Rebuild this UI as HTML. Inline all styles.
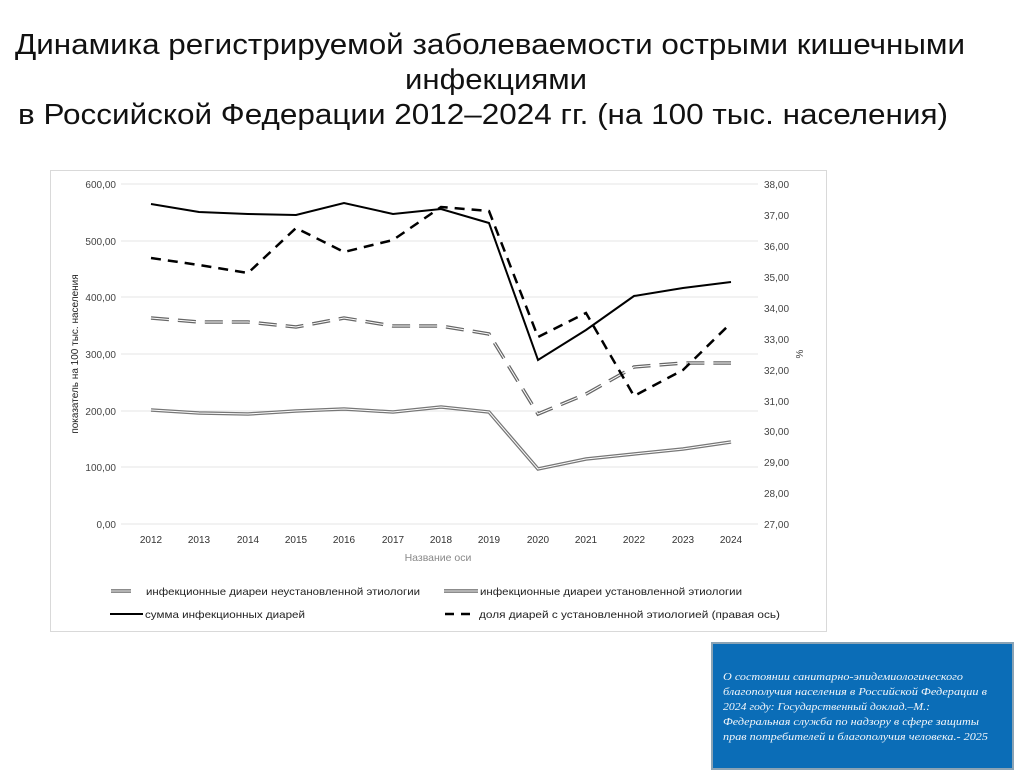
<!DOCTYPE html>
<html><head><meta charset="utf-8"><style>
html,body{margin:0;padding:0;background:#fff;width:1024px;height:779px;overflow:hidden}
</style></head><body>
<svg width="1024" height="779" xmlns="http://www.w3.org/2000/svg" font-family="Liberation Sans, sans-serif">
<g font-size="29" fill="#111">
<text x="15" y="54" textLength="950" lengthAdjust="spacingAndGlyphs">Динамика регистрируемой заболеваемости острыми кишечными</text>
<text x="405" y="89" textLength="182" lengthAdjust="spacingAndGlyphs">инфекциями</text>
<text x="18" y="124" textLength="930" lengthAdjust="spacingAndGlyphs">в Российской Федерации 2012–2024 гг. (на 100 тыс. населения)</text>
</g>
<rect x="50.5" y="170.5" width="776" height="461" fill="#fff" stroke="#d9d9d9"/>
<g stroke="#e6e6e6" stroke-width="1">
<line x1="121" x2="758" y1="184" y2="184"/><line x1="121" x2="758" y1="241" y2="241"/>
<line x1="121" x2="758" y1="297" y2="297"/><line x1="121" x2="758" y1="354" y2="354"/>
<line x1="121" x2="758" y1="411" y2="411"/><line x1="121" x2="758" y1="467" y2="467"/>
<line x1="121" x2="758" y1="524" y2="524"/>
</g>
<g font-size="10" fill="#444" text-anchor="end">
<text x="116" y="188">600,00</text><text x="116" y="245">500,00</text><text x="116" y="301">400,00</text>
<text x="116" y="358">300,00</text><text x="116" y="415">200,00</text><text x="116" y="471">100,00</text><text x="116" y="528">0,00</text>
</g>
<g font-size="10" fill="#444">
<text x="764" y="188">38,00</text><text x="764" y="219">37,00</text><text x="764" y="250">36,00</text>
<text x="764" y="281">35,00</text><text x="764" y="312">34,00</text><text x="764" y="343">33,00</text>
<text x="764" y="374">32,00</text><text x="764" y="405">31,00</text><text x="764" y="435">30,00</text>
<text x="764" y="466">29,00</text><text x="764" y="497">28,00</text><text x="764" y="528">27,00</text>
</g>
<text transform="translate(803,354) rotate(-90)" font-size="10" fill="#444" text-anchor="middle">%</text>
<text transform="translate(78,354) rotate(-90)" font-size="10" fill="#222" text-anchor="middle">показатель на 100 тыс. населения</text>
<g font-size="10" fill="#333" text-anchor="middle">
<text x="151" y="543">2012</text><text x="199" y="543">2013</text><text x="248" y="543">2014</text>
<text x="296" y="543">2015</text><text x="344" y="543">2016</text><text x="393" y="543">2017</text>
<text x="441" y="543">2018</text><text x="489" y="543">2019</text><text x="538" y="543">2020</text>
<text x="586" y="543">2021</text><text x="634" y="543">2022</text><text x="683" y="543">2023</text>
<text x="731" y="543">2024</text>
<text x="438" y="561" fill="#888" font-size="10.5">Название оси</text>
</g>
<polyline fill="none" stroke="#777" stroke-width="3.5" points="151,410 199,413 248,414 296,411 344,409 393,412 441,407 489,412 538,469 586,459 634,454 683,449 731,442"/>
<polyline fill="none" stroke="#fff" stroke-width="1" points="151,410 199,413 248,414 296,411 344,409 393,412 441,407 489,412 538,469 586,459 634,454 683,449 731,442"/>
<polyline fill="none" stroke="#666" stroke-width="3.5" stroke-dasharray="18,9" points="151,318 199,322 248,322 296,327 344,318 393,326 441,326 489,334 538,414 586,394 634,367 683,363 731,363"/>
<polyline fill="none" stroke="#fff" stroke-width="1" stroke-dasharray="18,9" points="151,318 199,322 248,322 296,327 344,318 393,326 441,326 489,334 538,414 586,394 634,367 683,363 731,363"/>
<polyline fill="none" stroke="#000" stroke-width="2" points="151,204 199,212 248,214 296,215 344,203 393,214 441,209 489,223 538,360 586,330 634,296 683,288 731,282"/>
<polyline fill="none" stroke="#000" stroke-width="2.5" stroke-dasharray="10,7" points="151,258 199,265 248,273 296,228 344,252 393,240 441,207 489,211 538,337 586,313 634,396 683,370 731,323"/>
<g font-size="10.5" fill="#222">
<line x1="111" x2="131" y1="591" y2="591" stroke="#666" stroke-width="3.5"/><line x1="111" x2="131" y1="591" y2="591" stroke="#fff" stroke-width="1"/>
<text x="146" y="595" textLength="274" lengthAdjust="spacingAndGlyphs">инфекционные диареи неустановленной этиологии</text>
<line x1="444" x2="478" y1="591" y2="591" stroke="#666" stroke-width="3.5"/><line x1="444" x2="478" y1="591" y2="591" stroke="#fff" stroke-width="1"/>
<text x="480" y="595" textLength="262" lengthAdjust="spacingAndGlyphs">инфекционные диареи установленной этиологии</text>
<line x1="110" x2="143" y1="614" y2="614" stroke="#000" stroke-width="2"/>
<text x="145" y="618" textLength="160" lengthAdjust="spacingAndGlyphs">сумма инфекционных диарей</text>
<line x1="445" x2="476" y1="614" y2="614" stroke="#000" stroke-width="2.5" stroke-dasharray="9,7"/>
<text x="479" y="618" textLength="301" lengthAdjust="spacingAndGlyphs">доля диарей с установленной этиологией (правая ось)</text>
</g>
<rect x="712" y="643" width="301" height="126" fill="#0b6db7" stroke="#8aa3b5" stroke-width="2"/>
<g font-family="Liberation Serif, serif" font-style="italic" font-size="10.5" fill="#f2f6fa">
<text x="723" y="680" textLength="240" lengthAdjust="spacingAndGlyphs">О состоянии санитарно-эпидемиологического</text>
<text x="723" y="695" textLength="264" lengthAdjust="spacingAndGlyphs">благополучия населения в Российской Федерации в</text>
<text x="723" y="710" textLength="207" lengthAdjust="spacingAndGlyphs">2024 году: Государственный доклад.–М.:</text>
<text x="723" y="725" textLength="256" lengthAdjust="spacingAndGlyphs">Федеральная служба по надзору в сфере защиты</text>
<text x="723" y="740" textLength="265" lengthAdjust="spacingAndGlyphs">прав потребителей и благополучия человека.- 2025</text>
</g>
</svg>
</body></html>
